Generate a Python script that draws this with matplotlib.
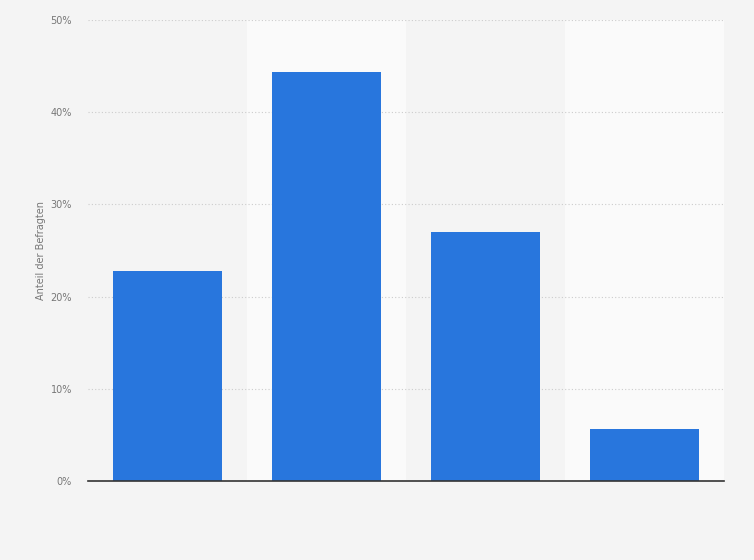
import matplotlib
matplotlib.use("Agg")
import matplotlib.pyplot as plt
from matplotlib.ticker import FuncFormatter

# data (share of respondents, %)
categories = ["", "", "", ""]
values = [22.8, 44.4, 27.0, 5.6]
y_ticks = [0, 10, 20, 30, 40, 50]

bg = "#f4f4f4"
band = "#fafafa"
bar_color = "#2876dd"

fig = plt.figure(figsize=(7.54, 5.6), dpi=100)
fig.patch.set_facecolor(bg)
ax = fig.add_axes([88 / 754, 1 - 481 / 560, 636 / 754, 461 / 560])
ax.set_facecolor(bg)

x = list(range(len(categories)))
# alternating column bands
for i in x:
    if i % 2 == 1:
        ax.axvspan(i - 0.5, i + 0.5, color=band, zorder=0, lw=0)

ax.bar(x, values, width=0.69, color=bar_color, zorder=3)

ax.set_xlim(-0.5, len(categories) - 0.5)
ax.set_ylim(0, 50)
ax.set_yticks(y_ticks)
ax.yaxis.set_major_formatter(FuncFormatter(lambda v, p: "{:d}%".format(int(v))))
ax.set_xticks(x)
ax.set_xticklabels(categories)
ax.tick_params(axis="x", length=0)
ax.tick_params(axis="y", length=0, labelsize=7, colors="#777777", pad=11.5)

ax.grid(axis="y", linestyle=(0, (1, 2)), color="#cccccc", linewidth=0.8, zorder=1)
for s in ["top", "right", "left"]:
    ax.spines[s].set_visible(False)
ax.spines["bottom"].set_color("#333333")
ax.spines["bottom"].set_linewidth(1.2)
ax.spines["bottom"].set_zorder(4)

ax.set_ylabel("Anteil der Befragten", fontsize=7, color="#777777", labelpad=3)

fig.savefig("out.png", dpi=100, facecolor=bg)
